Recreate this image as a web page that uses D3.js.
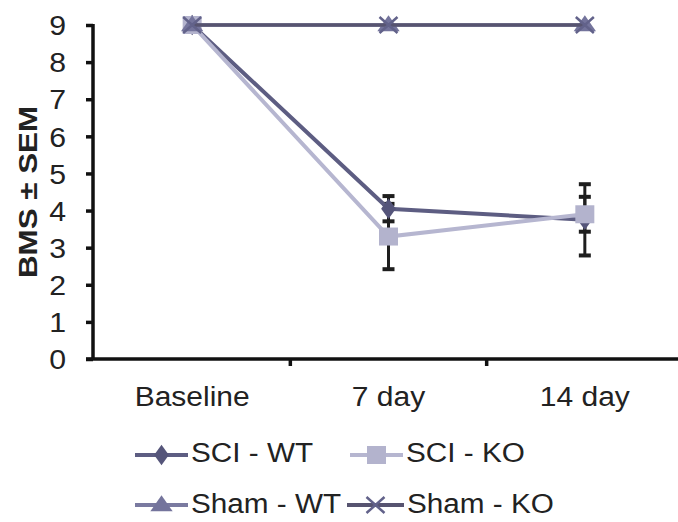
<!DOCTYPE html>
<html><head><meta charset="utf-8">
<script src="https://cdn.jsdelivr.net/npm/d3@7"></script>
<style>body{margin:0;background:#fff}svg{display:block}text{font-family:"Liberation Sans",Arial,sans-serif}</style>
</head><body>
<svg id="c" width="678" height="522"></svg>
<script>
const categories = ["Baseline", "7 day", "14 day"];
const yTicks = [0,1,2,3,4,5,6,7,8,9];
const sciWT = [9, 4.05, 3.75];
const sciWTerr = [0, 0.34, 0.96];
const sciKO = [9, 3.3, 3.9];
const sciKOerr = [0, 0.88, 0.47];
const shamWT = [9, 9, 9];
const shamKO = [9, 9, 9];
const seriesNames = ["SCI - WT", "SCI - KO", "Sham - WT", "Sham - KO"];

const svg = d3.select("#c");
const m = {l:93, t:25, b:359};
const x = d3.scaleBand().domain(categories).range([94, 683]);
const y = d3.scaleLinear().domain([0,9]).range([m.b, m.t]);
const cxOf = i => x(categories[i]) + x.bandwidth()/2;

const series = [
  {name: seriesNames[0], v: sciWT, e:sciWTerr, color:"#55557a", stroke:"#5d5d82", sw:4, sym:"dia"},
  {name: seriesNames[1], v: sciKO, e:sciKOerr, color:"#b3b3cd", stroke:"#b6b6d0", sw:4, sym:"sq"},
  {name: seriesNames[2], v: shamWT, e:null, color:"#74749c", stroke:"#7a7aa0", sw:3.5, sym:"tri"},
  {name: seriesNames[3], v: shamKO, e:null, color:"#62628a", stroke:"#575470", sw:3.5, sym:"x"}
];

function drawSym(g, sym, cx, cy, col){
  if(sym==="dia") g.append("path").attr("d", d3.symbol(d3.symbolDiamond, 120)()).attr("transform",`translate(${cx},${cy}) scale(1.25,1)`).attr("fill",col);
  else if(sym==="sq") g.append("rect").attr("x",cx-9.5).attr("y",cy-9).attr("width",19).attr("height",18).attr("fill",col);
  else if(sym==="tri") g.append("path").attr("d", d3.symbol(d3.symbolTriangle, 150)()).attr("transform",`translate(${cx},${cy+1}) scale(1.2,1)`).attr("fill",col);
  else if(sym==="x") { const s=8; g.append("path").attr("d",`M${cx-s-1},${cy-s}L${cx+s+1},${cy+s}M${cx+s+1},${cy-s}L${cx-s-1},${cy+s}`).attr("stroke",col).attr("stroke-width",2.5); }
}

// error bars
const eg = svg.append("g");
series.forEach(s=>{
  if(!s.e) return;
  s.v.forEach((v,i)=>{
    if(!s.e[i]) return;
    const cx = cxOf(i);
    eg.append("line").attr("x1",cx).attr("x2",cx).attr("y1",y(v+s.e[i])).attr("y2",y(v-s.e[i])).attr("stroke","#1e1e1e").attr("stroke-width",3);
    [v+s.e[i], v-s.e[i]].forEach(t=>eg.append("line").attr("x1",cx-6).attr("x2",cx+6).attr("y1",y(t)).attr("y2",y(t)).attr("stroke","#1e1e1e").attr("stroke-width",4));
  });
});

const line = d3.line().x((d,i)=>cxOf(i)).y(d=>y(d));
series.forEach(s=>{
  svg.append("path").attr("d", line(s.v)).attr("fill","none").attr("stroke",s.stroke).attr("stroke-width",s.sw);
  s.v.forEach((v,i)=>drawSym(svg, s.sym, cxOf(i), y(v), s.color));
});

function stretch(sel, k){ sel.each(function(){ const w=this.getComputedTextLength(); d3.select(this).attr("textLength", w*k).attr("lengthAdjust","spacingAndGlyphs"); }); }

// axes
const ya = svg.append("g").attr("transform",`translate(${m.l},0)`).call(d3.axisLeft(y).tickValues(yTicks).tickSize(7).tickPadding(20));
ya.select(".domain").attr("d",`M0,${m.t-1}V${m.b+1}`).attr("stroke","#111").attr("stroke-width",3.5);
ya.selectAll(".tick line").attr("stroke","#111").attr("stroke-width",3.5);
ya.selectAll("text").attr("font-size",27).attr("fill","#222").attr("font-family","Liberation Sans, Arial, sans-serif").attr("dy","0.36em");
stretch(ya.selectAll("text"), 1.12);

const xa = svg.append("g").attr("transform",`translate(0,${m.b})`).call(d3.axisBottom(x).tickSize(0).tickPadding(0));
xa.select(".domain").attr("d",`M86,0H678`).attr("stroke","#111").attr("stroke-width",3.5);
xa.selectAll("text").attr("font-size",27).attr("fill","#222").attr("font-family","Liberation Sans, Arial, sans-serif").attr("y",47).attr("dy",0);
stretch(xa.selectAll("text"), 1.11);
const bounds = categories.slice(1).map(c=>x(c));
svg.append("g").selectAll("line").data(bounds).join("line").attr("x1",d=>d).attr("x2",d=>d).attr("y1",m.b).attr("y2",m.b+7).attr("stroke","#111").attr("stroke-width",3.5);

svg.append("text").attr("transform","rotate(-90)").attr("x",-(m.t+m.b)/2).attr("y",37).attr("text-anchor","middle").attr("font-size",26).attr("font-weight","bold").attr("fill","#222").attr("textLength",172).attr("lengthAdjust","spacingAndGlyphs").text("BMS ± SEM");

// legend
const legItems = [
  {s:series[0], lx:135, lw:53, ly:455, ty:462},
  {s:series[1], lx:350, lw:53, ly:455, ty:462},
  {s:series[2], lx:135, lw:53, ly:505, ty:513},
  {s:series[3], lx:347, lw:57, ly:505, ty:513}
];
legItems.forEach(it=>{
  const g = svg.append("g");
  g.append("line").attr("x1",it.lx).attr("x2",it.lx+it.lw).attr("y1",it.ly).attr("y2",it.ly).attr("stroke",it.s.stroke).attr("stroke-width",4);
  drawSym(g, it.s.sym, it.lx+it.lw/2, it.ly, it.s.color);
  const t = g.append("text").attr("x",it.lx+it.lw+3).attr("y",it.ty).attr("font-size",27).attr("fill","#222").text(it.s.name);
  stretch(t, 1.1);
});
</script>
</body></html>
